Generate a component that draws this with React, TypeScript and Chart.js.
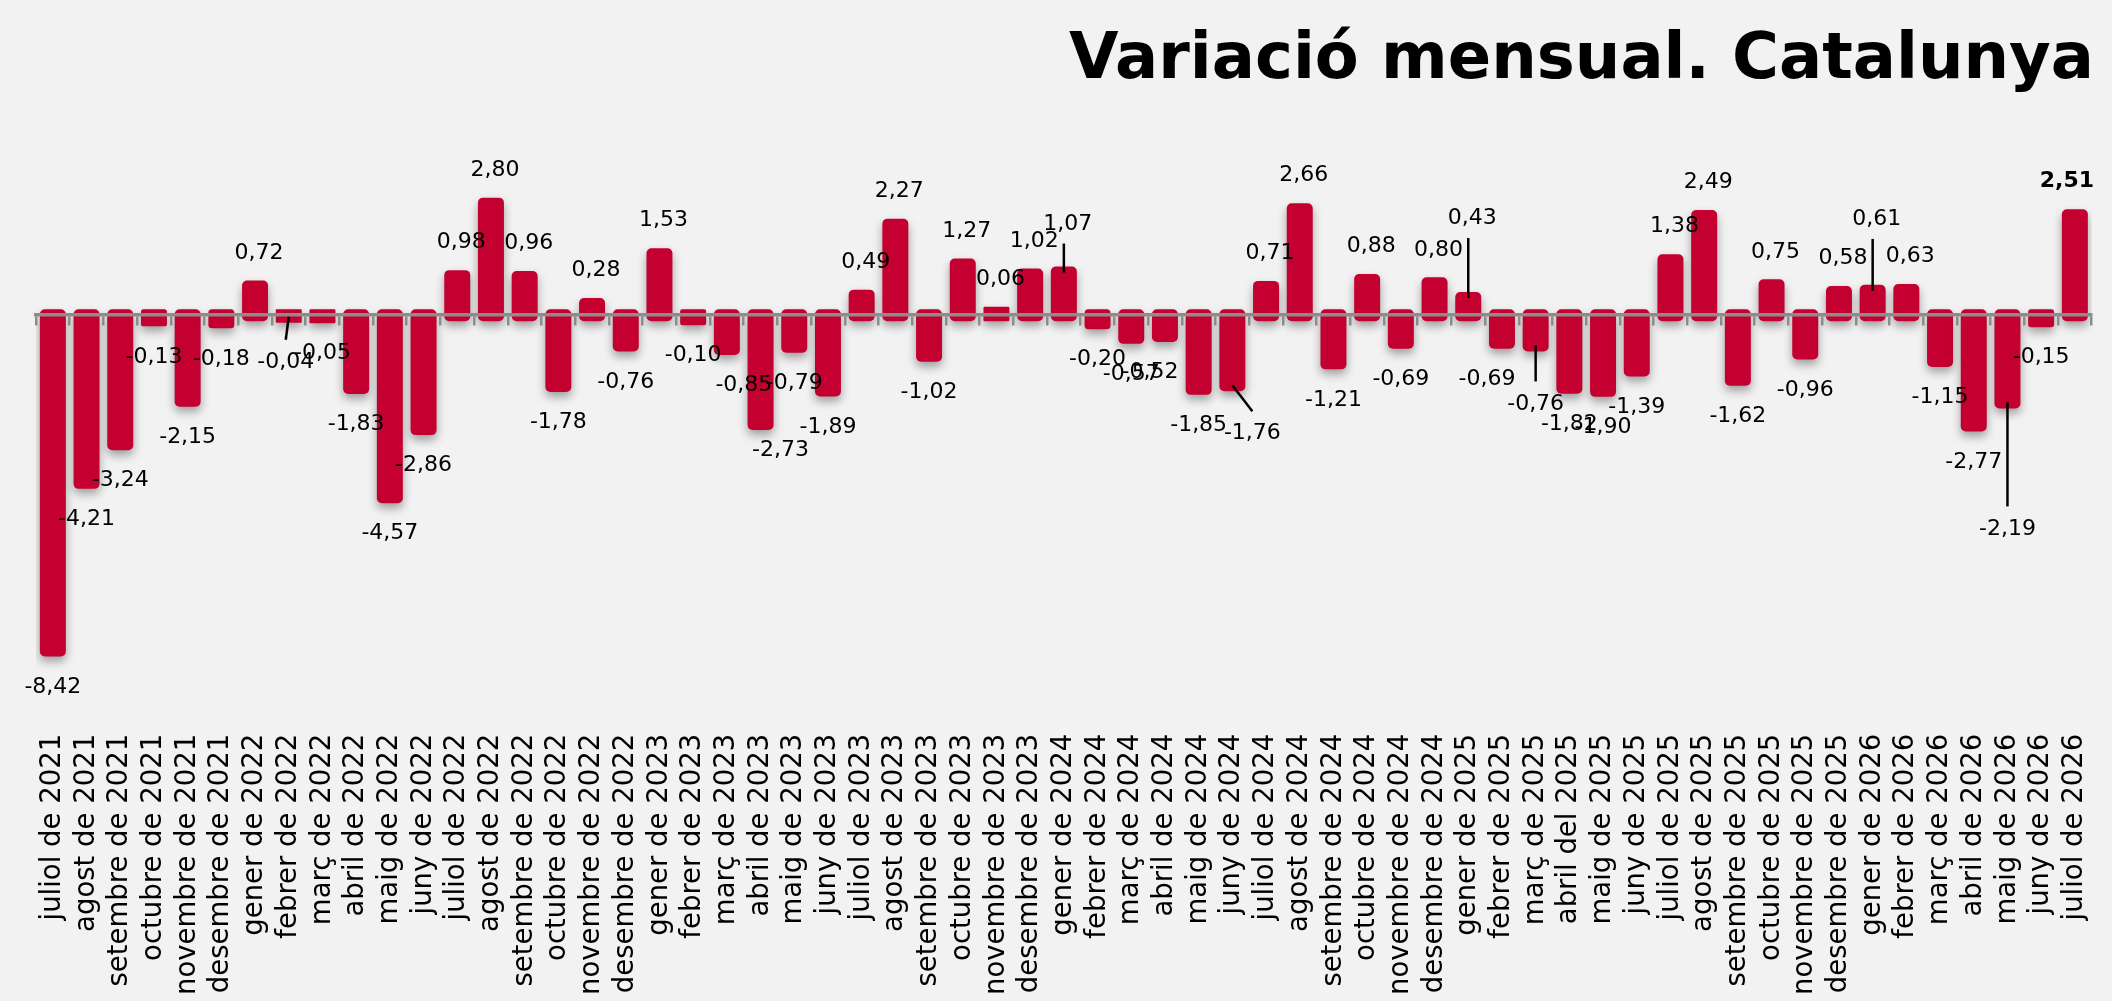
import { useEffect, useRef } from 'react'
import { Chart, registerables, Plugin } from 'chart.js'

Chart.register(...registerables)

const months = [
  'juliol de 2021', 'agost de 2021', 'setembre de 2021', 'octubre de 2021', 'novembre de 2021', 'desembre de 2021',
  'gener de 2022', 'febrer de 2022', 'març de 2022', 'abril de 2022', 'maig de 2022', 'juny de 2022',
  'juliol de 2022', 'agost de 2022', 'setembre de 2022', 'octubre de 2022', 'novembre de 2022', 'desembre de 2022',
  'gener de 2023', 'febrer de 2023', 'març de 2023', 'abril de 2023', 'maig de 2023', 'juny de 2023',
  'juliol de 2023', 'agost de 2023', 'setembre de 2023', 'octubre de 2023', 'novembre de 2023', 'desembre de 2023',
  'gener de 2024', 'febrer de 2024', 'març de 2024', 'abril de 2024', 'maig de 2024', 'juny de 2024',
  'juliol de 2024', 'agost de 2024', 'setembre de 2024', 'octubre de 2024', 'novembre de 2024', 'desembre de 2024',
  'gener de 2025', 'febrer de 2025', 'març de 2025', 'abril del 2025', 'maig de 2025', 'juny de 2025',
  'juliol de 2025', 'agost de 2025', 'setembre de 2025', 'octubre de 2025', 'novembre de 2025', 'desembre de 2025',
  'gener de 2026', 'febrer de 2026', 'març de 2026', 'abril de 2026', 'maig de 2026', 'juny de 2026',
  'juliol de 2026',
]

const variation = [
  -8.42, -4.21, -3.24, -0.13, -2.15, -0.18,
  0.72, -0.04, -0.05, -1.83, -4.57, -2.86, 0.98, 2.80, 0.96, -1.78, 0.28, -0.76,
  1.53, -0.10, -0.85, -2.73, -0.79, -1.89, 0.49, 2.27, -1.02, 1.27, 0.06, 1.02,
  1.07, -0.20, -0.57, -0.52, -1.85, -1.76, 0.71, 2.66, -1.21, 0.88, -0.69, 0.80,
  0.43, -0.69, -0.76, -1.82, -1.90, -1.39, 1.38, 2.49, -1.62, 0.75, -0.96, 0.58,
  0.61, 0.63, -1.15, -2.77, -2.19, -0.15, 2.51,
]

// labels that were moved by hand in the original (some with a leader line)
const labelNudges: Record<number, { dx?: number; dy?: number; leader?: boolean }> = {
  7: { dx: -3, dy: 9, leader: true },
  20: { dx: 17 },
  21: { dx: 20, dy: -10 },
  30: { dy: -15, leader: true },
  33: { dx: -15 },
  35: { dx: 20, dy: 12, leader: true },
  42: { dy: -46, leader: true },
  43: { dx: -15 },
  44: { dy: 22, leader: true },
  54: { dy: -38, leader: true },
  58: { dy: 90, leader: true },
  60: { dx: -12 },
}

const BAR_RED = '#c3002f'
const AXIS_GREY = '#8c8c8c'
const FONT = '"DejaVu Sans", Verdana, sans-serif'

const fmt = (v: number) => v.toFixed(2).replace('.', ',')

const barShadow: Plugin<'bar'> = {
  id: 'barShadow',
  beforeDatasetsDraw(chart) {
    const ctx = chart.ctx
    ctx.save()
    ctx.shadowColor = 'rgba(0,0,0,0.35)'
    ctx.shadowBlur = 10
    ctx.shadowOffsetX = 0
    ctx.shadowOffsetY = 5
  },
  afterDatasetsDraw(chart) {
    chart.ctx.restore()
  },
}

const valueLabels: Plugin<'bar'> = {
  id: 'valueLabels',
  afterDraw(chart) {
    const ctx = chart.ctx
    const meta = chart.getDatasetMeta(0)
    ctx.save()
    ctx.textAlign = 'center'
    ctx.textBaseline = 'middle'
    meta.data.forEach((bar: any, i: number) => {
      const v = variation[i]
      const nudge = labelNudges[i] || {}
      const dir = v >= 0 ? -1 : 1
      const ly = bar.y + dir * 35 + (nudge.dy || 0)
      if (nudge.leader) {
        ctx.strokeStyle = '#000'
        ctx.lineWidth = 2.5
        ctx.beginPath()
        ctx.moveTo(bar.x, bar.y)
        ctx.lineTo(bar.x + (nudge.dx || 0), ly - dir * 21)
        ctx.stroke()
      }
      // positive labels sit a little right of the bar centre in the original
      const lx = bar.x + (v >= 0 ? 4 : 0) + (nudge.dx || 0)
      ctx.font = `${i === variation.length - 1 ? 'bold ' : ''}22px ${FONT}`
      ctx.fillStyle = '#000'
      ctx.fillText(fmt(v), lx, ly + 1.5)
    })
    ctx.restore()
  },
}

export default function App() {
  const chartRef = useRef<HTMLCanvasElement>(null)

  useEffect(() => {
    if (!chartRef.current) return

    const config: any = {
      type: 'bar',
      data: {
        labels: months,
        datasets: [
          {
            data: variation,
            backgroundColor: BAR_RED,
            borderWidth: 0,
            borderRadius: 5,
            borderSkipped: false,
            inflateAmount: 6,
            barPercentage: 0.415,
            categoryPercentage: 1,
          },
        ],
      },
      options: {
        responsive: false,
        animation: false,
        devicePixelRatio: 1,
        layout: { padding: { left: 36, right: 18, top: 0, bottom: 2 } },
        plugins: {
          legend: { display: false },
          tooltip: { enabled: false },
          title: {
            display: true,
            text: 'Variació mensual. Catalunya',
            align: 'end',
            color: '#000',
            font: { family: FONT, size: 64, weight: 'bold' },
            padding: { top: 23, bottom: 6 },
          },
        },
        scales: {
          x: {
            type: 'category',
            offset: true,
            grid: { display: false, drawTicks: false },
            border: { display: false },
            ticks: {
              autoSkip: false,
              minRotation: 90,
              maxRotation: 90,
              padding: 4,
              color: '#000',
              font: { family: FONT, size: 27.5 },
            },
          },
          x0: {
            type: 'category',
            position: { y: 0 },
            offset: true,
            z: 1,
            grid: {
              offset: true,
              drawOnChartArea: false,
              drawTicks: true,
              tickLength: 9,
              color: AXIS_GREY,
              lineWidth: 2.5,
              z: 1,
            },
            border: { display: true, color: AXIS_GREY, width: 3.5, z: 1 },
            ticks: { display: false },
          },
          y: { display: false, min: -10.41, max: 5.256 },
        },
      },
      plugins: [barShadow, valueLabels],
    }

    const chart = new Chart(chartRef.current, config)
    return () => chart.destroy()
  }, [])

  return (
    <div style={{ position: 'fixed', left: 0, top: 0, width: 2112, height: 1001, background: '#f2f2f2' }}>
      <canvas ref={chartRef} width={2112} height={1001} style={{ display: 'block', width: 2112, height: 1001 }} />
    </div>
  )
}
